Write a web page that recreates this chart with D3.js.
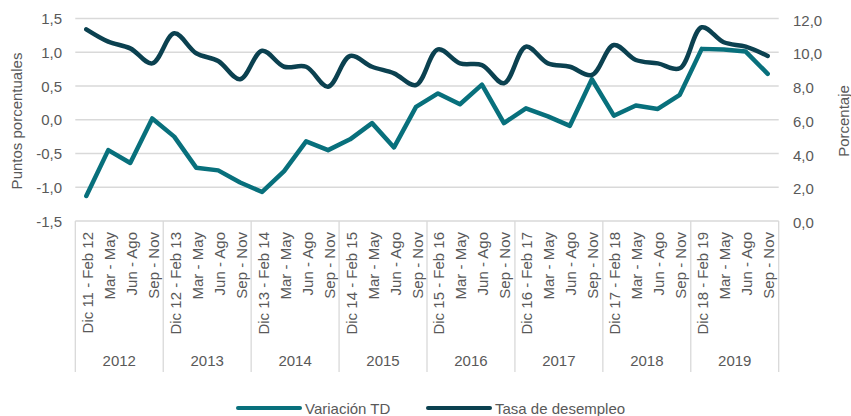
<!DOCTYPE html>
<html>
<head>
<meta charset="utf-8">
<script src="https://cdn.jsdelivr.net/npm/d3@7.9.0/dist/d3.min.js"></script>
<style>
  body { margin: 0; background: #fff; }
  svg { font-family: "Liberation Sans", Arial, sans-serif; }
</style>
</head>
<body>
<svg id="chart" width="851" height="416"></svg>
<script>
const years = ['2012', '2013', '2014', '2015', '2016', '2017', '2018', '2019'];
const periods = ['Dic - Feb', 'Mar - May', 'Jun - Ago', 'Sep - Nov'];

// Variación TD (puntos porcentuales, eje izquierdo)
const variacion = [-1.13, -0.45, -0.64, 0.02, -0.25, -0.71, -0.75, -0.93,
                   -1.07, -0.76, -0.32, -0.45, -0.29, -0.05, -0.41, 0.19,
                   0.39, 0.23, 0.52, -0.05, 0.17, 0.05, -0.09, 0.60,
                   0.06, 0.21, 0.16, 0.37, 1.05, 1.04, 1.01, 0.68];

// Tasa de desempleo (porcentaje, eje derecho)
const tasa = [11.36, 10.63, 10.23, 9.34, 11.12, 9.94, 9.48, 8.40,
              10.09, 9.14, 9.14, 7.96, 9.78, 9.14, 8.75, 8.06,
              10.17, 9.34, 9.24, 8.16, 10.33, 9.34, 9.14, 8.65,
              10.43, 9.54, 9.34, 9.05, 11.48, 10.59, 10.33, 9.78];

const leftTicks = [-1.5, -1.0, -0.5, 0.0, 0.5, 1.0, 1.5];
const rightTicks = [0, 2, 4, 6, 8, 10, 12];

// category labels like "Dic 11 - Feb 12"
const categories = [];
years.forEach(y => {
  const yy = +y.slice(2);
  periods.forEach((p, i) => {
    const label = i === 0 ? `Dic ${yy - 1} - Feb ${yy}` : p;
    categories.push({ year: y, label: label, key: y + '-' + i });
  });
});

const svg = d3.select('#chart');
const m = { left: 75.3, right: 778.7, top: 18.5, bottom: 221 };
const fs = 15;
const gray = '#595959';
const grid = '#d9d9d9';
const teal = '#08707c';
const dark = '#0b4150';

const x = d3.scaleBand().domain(categories.map(d => d.key)).range([m.left, m.right]);
const yL = d3.scaleLinear().domain([-1.5, 1.5]).range([m.bottom, m.top]);
const yR = d3.scaleLinear().domain([0, 12]).range([m.bottom, m.top]);
const fmt = v => d3.format('.1f')(v).replace('.', ',').replace('−', '-');

// gridlines
svg.append('g').selectAll('line').data(leftTicks).join('line')
  .attr('x1', m.left).attr('x2', m.right)
  .attr('y1', d => yL(d)).attr('y2', d => yL(d))
  .attr('stroke', grid).attr('stroke-width', 1.3);

// left axis labels
svg.append('g').selectAll('text').data(leftTicks).join('text')
  .attr('x', 62).attr('y', d => yL(d)).attr('dy', '0.38em')
  .attr('text-anchor', 'end').attr('font-size', fs).attr('fill', gray)
  .text(d => fmt(d));

// right axis labels
svg.append('g').selectAll('text').data(rightTicks).join('text')
  .attr('x', 793).attr('y', d => yR(d)).attr('dy', '0.48em')
  .attr('text-anchor', 'start').attr('font-size', fs).attr('fill', gray)
  .text(d => fmt(d));

// axis titles
svg.append('text')
  .attr('transform', 'translate(22,121) rotate(-90)')
  .attr('text-anchor', 'middle').attr('font-size', fs).attr('fill', gray)
  .text('Puntos porcentuales');
svg.append('text')
  .attr('transform', 'translate(849,121) rotate(-90)')
  .attr('text-anchor', 'middle').attr('font-size', fs).attr('fill', gray)
  .text('Porcentaje');

// year separators on the category axis
const bw = x.bandwidth();
const sepX = years.map(y => x(y + '-0')).concat([m.right]);
svg.append('g').selectAll('line').data(sepX).join('line')
  .attr('x1', d => d).attr('x2', d => d)
  .attr('y1', m.bottom).attr('y2', 372)
  .attr('stroke', grid).attr('stroke-width', 1.3);

// category labels (rotated)
svg.append('g').selectAll('text').data(categories).join('text')
  .attr('transform', d => `translate(${x(d.key) + bw / 2 + 6.5},232) rotate(-90)`)
  .attr('text-anchor', 'end').attr('font-size', fs).attr('fill', gray)
  .text(d => d.label);

// year labels
svg.append('g').selectAll('text').data(years).join('text')
  .attr('x', (d, i) => (sepX[i] + sepX[i + 1]) / 2).attr('y', 365.5)
  .attr('text-anchor', 'middle').attr('font-size', fs).attr('fill', gray)
  .text(d => d);

// lines
const cx = i => x(categories[i].key) + bw / 2;
const lineL = d3.line().x((d, i) => cx(i)).y(d => yL(d));
const lineR = d3.line().x((d, i) => cx(i)).y(d => yR(d)).curve(d3.curveCatmullRom.alpha(0.5));

svg.append('path').datum(variacion).attr('d', lineL)
  .attr('fill', 'none').attr('stroke', teal).attr('stroke-width', 4.5)
  .attr('stroke-linejoin', 'round').attr('stroke-linecap', 'round');
svg.append('path').datum(tasa).attr('d', lineR)
  .attr('fill', 'none').attr('stroke', dark).attr('stroke-width', 4.5)
  .attr('stroke-linejoin', 'round').attr('stroke-linecap', 'round');

// legend
const legend = [
  { name: 'Variación TD', color: teal, x: 238 },
  { name: 'Tasa de desempleo', color: dark, x: 428 }
];
const lg = svg.append('g').selectAll('g').data(legend).join('g');
lg.append('line')
  .attr('x1', d => d.x).attr('x2', d => d.x + 62)
  .attr('y1', 408).attr('y2', 408)
  .attr('stroke', d => d.color).attr('stroke-width', 4).attr('stroke-linecap', 'round');
lg.append('text')
  .attr('x', d => d.x + 67).attr('y', 413.5)
  .attr('font-size', fs).attr('fill', gray)
  .text(d => d.name);
</script>
</body>
</html>
